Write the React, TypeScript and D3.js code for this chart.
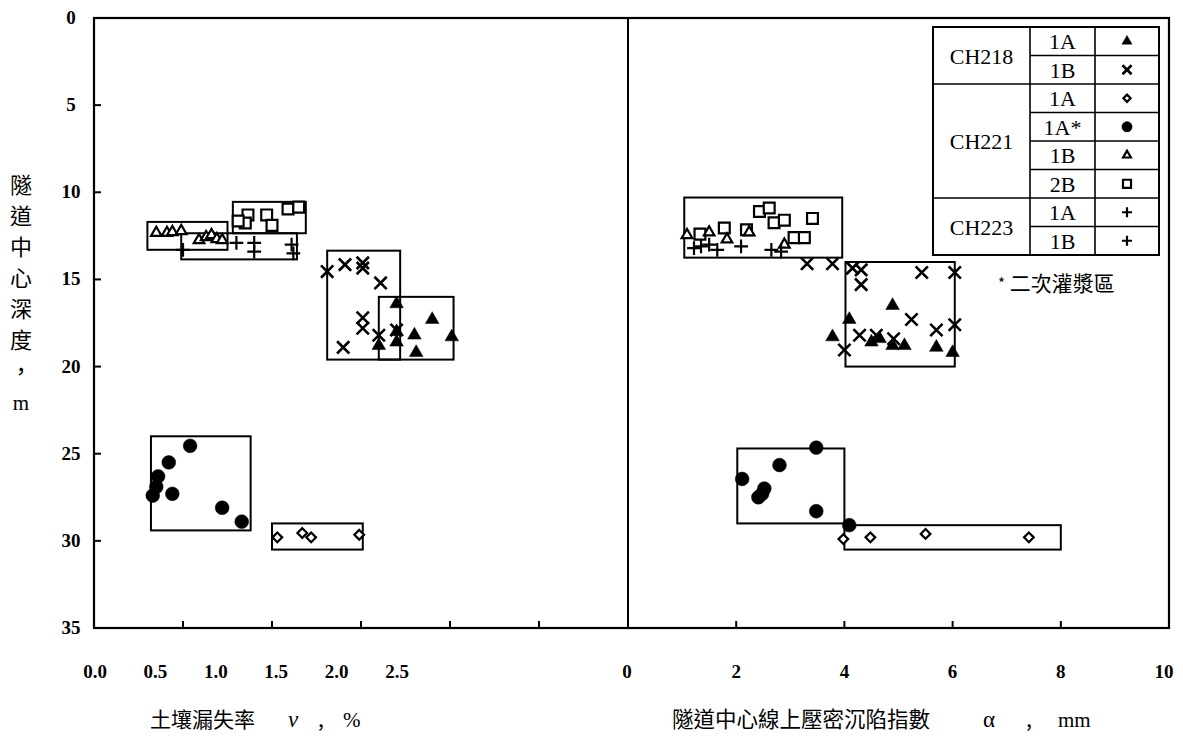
import React, { useEffect, useRef } from 'react';
import * as d3 from 'd3';

// axes
const depthTicks = [0, 5, 10, 15, 20, 25, 30, 35];
const lossTicks = [0, 0.5, 1, 1.5, 2, 2.5];
const lossLabels = ['0.0', '0.5', '1.0', '1.5', '2.0', '2.5'];
const settleTicks = [0, 2, 4, 6, 8, 10];

// left panel: [soil loss v (%), depth (m)]
const lossTriFilled = [[1.70, 16.4], [1.90, 17.3], [1.80, 18.2], [1.60, 18.8], [1.70, 18.6], [1.70, 18.0], [1.81, 19.2], [2.01, 18.3]];
const lossCross = [[1.31, 14.55], [1.41, 14.15], [1.51, 14.05], [1.51, 14.35], [1.61, 15.2], [1.51, 17.2], [1.51, 17.8], [1.40, 18.9], [1.60, 18.2], [1.70, 17.9]];
const lossDiamond = [[1.03, 29.8], [1.17, 29.55], [1.22, 29.8], [1.49, 29.65]];
const lossDot = [[0.54, 24.55], [0.42, 25.5], [0.36, 26.3], [0.35, 26.9], [0.33, 27.4], [0.44, 27.3], [0.72, 28.1], [0.83, 28.9]];
const lossTriOpen = [[0.35, 12.33], [0.41, 12.33], [0.44, 12.28], [0.49, 12.22], [0.59, 12.74], [0.63, 12.57], [0.66, 12.45], [0.69, 12.68], [0.72, 12.74]];
const lossSquare = [[0.865, 11.3], [0.97, 11.3], [1.09, 10.96], [0.85, 11.76], [1.0, 11.9], [0.81, 11.65], [1.15, 10.85]];
const lossPlus = [[0.50, 13.3], [0.80, 12.9], [0.90, 12.9], [0.90, 13.4], [1.12, 13.5], [1.11, 13.0]];
// [x0, x1, depth0, depth1]
const lossBoxes = [[0.30, 0.75, 11.7, 13.3], [0.78, 1.19, 10.55, 12.35], [0.49, 1.14, 12.35, 13.85], [1.31, 1.72, 13.35, 19.6], [1.60, 2.02, 16.0, 19.6], [0.32, 0.88, 24.0, 29.4], [1.0, 1.51, 29.0, 30.5]];

// right panel: [settlement index alpha (mm), depth (m)]
const settleTriFilled = [[4.89, 16.5], [4.09, 17.3], [3.78, 18.3], [4.5, 18.6], [4.65, 18.4], [4.89, 18.8], [5.11, 18.8], [5.7, 18.9], [6.0, 19.2]];
const settleCross = [[3.31, 14.1], [3.78, 14.1], [4.15, 14.35], [4.31, 14.45], [4.31, 15.3], [5.43, 14.6], [6.04, 14.6], [5.24, 17.3], [6.04, 17.6], [5.70, 17.9], [4.28, 18.2], [4.59, 18.2], [4.91, 18.4], [4.0, 19.05]];
const settleDiamond = [[3.98, 29.9], [4.48, 29.8], [5.5, 29.6], [7.41, 29.8]];
const settleDot = [[3.48, 24.65], [2.8, 25.65], [2.11, 26.45], [2.52, 27.0], [2.41, 27.5], [2.48, 27.3], [3.48, 28.3], [4.09, 29.1]];
const settleTriOpen = [[1.09, 12.45], [1.5, 12.3], [1.83, 12.7], [2.24, 12.3], [2.89, 13.0]];
const settleSquare = [[2.43, 11.1], [2.61, 10.9], [2.70, 11.75], [2.89, 11.6], [3.41, 11.5], [3.07, 12.6], [3.26, 12.6], [1.78, 12.05], [2.19, 12.15], [1.33, 12.4]];
const settlePlus = [[1.22, 13.2], [1.35, 13.1], [1.65, 13.3], [2.09, 13.1], [2.65, 13.3], [2.83, 13.4], [1.5, 13.0]];
const settleBoxes = [[1.04, 3.96, 10.3, 13.75], [4.02, 6.04, 14.0, 20.0], [2.02, 4.0, 24.7, 29.0], [4.0, 8.0, 29.1, 30.5]];

// legend
const legendGroups = ['CH218', 'CH221', 'CH223'];
const legendSpans = [2, 4, 2];
const legendCases = ['1A', '1B', '1A', '1A*', '1B', '2B', '1A', '1B'];
const legendKinds = ['triFilled', 'cross', 'diamond', 'dot', 'triOpen', 'square', 'plus', 'plus'];

const serif = '"Liberation Serif", "Times New Roman", serif';
const cjk = '"Noto Sans CJK TC", "Noto Sans CJK SC", sans-serif';

function symbolPath(kind: string, scale: number) {
    const s = d3.symbol();
    if (kind === 'triFilled') return s.type(d3.symbolTriangle).size(80 * scale)();
    if (kind === 'cross') return s.type(d3.symbolTimes).size(100 * scale)();
    if (kind === 'diamond') return s.type(d3.symbolDiamond2).size(60 * scale)();
    if (kind === 'dot') return s.type(d3.symbolCircle).size(150 * scale)();
    if (kind === 'triOpen') return s.type(d3.symbolTriangle2).size(80 * scale)();
    if (kind === 'square') return s.type(d3.symbolSquare2).size(150 * scale)();
    return s.type(d3.symbolPlus).size(64 * scale)();
}

function drawMark(g: any, kind: string, x: number, y: number, scale: number) {
    const filled = kind === 'triFilled' || kind === 'dot';
    g.append('path')
        .attr('d', symbolPath(kind, scale))
        .attr('transform', `translate(${x},${y})`)
        .attr('fill', filled ? '#000' : (kind === 'cross' || kind === 'plus' ? 'none' : '#fff'))
        .attr('stroke', '#000')
        .attr('stroke-width', filled ? 0.5 : (kind === 'cross' ? 2.6 : 2.2));
}

export default function App() {
    const ref = useRef<SVGSVGElement>(null);

    useEffect(() => {
        const svg = d3.select(ref.current);
        svg.selectAll('*').remove();

        const y = d3.scaleLinear().domain([0, 35]).range([18, 628]);
        const xL = d3.scaleLinear().domain([0, 3]).range([94, 628]);
        const xR = d3.scaleLinear().domain([0, 10]).range([628, 1169]);
        // the printed labels of the left axis sit closer together than its ticks
        const lossLabelPos = d3.scalePoint().domain(lossLabels).range([95, 397]);

        // frame
        svg.append('rect')
            .attr('x', xL(0)).attr('y', y(0))
            .attr('width', xR(10) - xL(0)).attr('height', y(35) - y(0))
            .attr('fill', 'none').attr('stroke', '#000').attr('stroke-width', 2.2);
        svg.append('line')
            .attr('x1', xR(0)).attr('x2', xR(0)).attr('y1', y(0)).attr('y2', y(35))
            .attr('stroke', '#000').attr('stroke-width', 2);

        // ticks
        const tg = svg.append('g').attr('stroke', '#000').attr('stroke-width', 2);
        depthTicks.slice(1, -1).forEach((d) => {
            tg.append('line').attr('x1', xL(0)).attr('x2', xL(0) + 7).attr('y1', y(d)).attr('y2', y(d));
        });
        lossTicks.slice(1).forEach((d) => {
            tg.append('line').attr('x1', xL(d)).attr('x2', xL(d)).attr('y1', y(35)).attr('y2', y(35) - 7);
        });
        settleTicks.slice(1, -1).forEach((d) => {
            tg.append('line').attr('x1', xR(d)).attr('x2', xR(d)).attr('y1', y(35)).attr('y2', y(35) - 7);
        });

        // tick labels
        const lab = svg.append('g').attr('font-family', serif).attr('font-size', 19).attr('font-weight', 'bold').attr('text-anchor', 'middle');
        depthTicks.forEach((d) => {
            lab.append('text').attr('x', 71).attr('y', y(d) + 6).text(d);
        });
        lossLabels.forEach((d) => {
            lab.append('text').attr('x', lossLabelPos(d)).attr('y', 678).text(d);
        });
        settleTicks.forEach((d) => {
            lab.append('text').attr('x', xR(d) + (d === 0 ? -1 : d === 10 ? -5 : 0)).attr('y', 678).text(d);
        });

        // axis titles
        const yTitle = '隧道中心深度，m';
        Array.from(yTitle).forEach((ch, i) => {
            svg.append('text')
                .attr('x', 21).attr('y', 193 + i * 31)
                .attr('text-anchor', 'middle')
                .attr('font-family', ch === 'm' ? serif : cjk)
                .attr('font-size', ch === 'm' ? 21 : 22)
                .text(ch);
        });
        const t1 = svg.append('text').attr('y', 727).attr('font-family', cjk).attr('font-size', 21);
        t1.append('tspan').attr('x', 150).text('土壤漏失率');
        t1.append('tspan').attr('x', 288).attr('font-family', serif).attr('font-style', 'italic').attr('font-size', 23).text('v');
        t1.append('tspan').attr('x', 318).text(',');
        t1.append('tspan').attr('x', 343).attr('font-family', serif).attr('font-size', 21).text('%');
        const t2 = svg.append('text').attr('y', 727).attr('font-family', cjk).attr('font-size', 21.5);
        t2.append('tspan').attr('x', 672).text('隧道中心線上壓密沉陷指數');
        t2.append('tspan').attr('x', 983).attr('font-family', serif).attr('font-size', 23).text('α');
        t2.append('tspan').attr('x', 1026).text(',');
        t2.append('tspan').attr('x', 1058).attr('font-family', serif).attr('font-size', 21).text('mm');

        // range boxes
        const boxes = svg.append('g').attr('fill', 'none').attr('stroke', '#000').attr('stroke-width', 2);
        lossBoxes.forEach((b) => {
            boxes.append('rect').attr('x', xL(b[0])).attr('y', y(b[2]))
                .attr('width', xL(b[1]) - xL(b[0])).attr('height', y(b[3]) - y(b[2]));
        });
        settleBoxes.forEach((b) => {
            boxes.append('rect').attr('x', xR(b[0])).attr('y', y(b[2]))
                .attr('width', xR(b[1]) - xR(b[0])).attr('height', y(b[3]) - y(b[2]));
        });

        // points
        const marks = svg.append('g');
        const leftSets: [string, number[][]][] = [
            ['dot', lossDot], ['diamond', lossDiamond], ['square', lossSquare], ['triOpen', lossTriOpen],
            ['plus', lossPlus], ['cross', lossCross], ['triFilled', lossTriFilled],
        ];
        const rightSets: [string, number[][]][] = [
            ['dot', settleDot], ['diamond', settleDiamond], ['square', settleSquare], ['triOpen', settleTriOpen],
            ['plus', settlePlus], ['cross', settleCross], ['triFilled', settleTriFilled],
        ];
        leftSets.forEach(([k, pts]) => pts.forEach((p) => drawMark(marks, k, xL(p[0]), y(p[1]), 1)));
        rightSets.forEach(([k, pts]) => pts.forEach((p) => drawMark(marks, k, xR(p[0]), y(p[1]), 1)));

        // legend table
        const lx = [933, 1030, 1095, 1159];
        const rowY = d3.scaleLinear().domain([0, legendCases.length]).range([27, 255]);
        const lg = svg.append('g');
        lg.append('rect').attr('x', lx[0]).attr('y', rowY(0)).attr('width', lx[3] - lx[0]).attr('height', rowY(8) - rowY(0))
            .attr('fill', '#fff').attr('stroke', '#000').attr('stroke-width', 2);
        [1, 2].forEach((c) => {
            lg.append('line').attr('x1', lx[c]).attr('x2', lx[c]).attr('y1', rowY(0)).attr('y2', rowY(8))
                .attr('stroke', '#000').attr('stroke-width', 1.6);
        });
        let start = 0;
        legendGroups.forEach((name, gi) => {
            const end = start + legendSpans[gi];
            if (gi > 0) {
                lg.append('line').attr('x1', lx[0]).attr('x2', lx[1]).attr('y1', rowY(start)).attr('y2', rowY(start))
                    .attr('stroke', '#000').attr('stroke-width', 1.6);
            }
            lg.append('text').attr('x', (lx[0] + lx[1]) / 2).attr('y', (rowY(start) + rowY(end)) / 2 + 8)
                .attr('text-anchor', 'middle').attr('font-family', serif).attr('font-size', 22).text(name);
            start = end;
        });
        legendCases.forEach((c, i) => {
            if (i > 0) {
                lg.append('line').attr('x1', lx[1]).attr('x2', lx[3]).attr('y1', rowY(i)).attr('y2', rowY(i))
                    .attr('stroke', '#000').attr('stroke-width', 1.6);
            }
            const cy = (rowY(i) + rowY(i + 1)) / 2;
            lg.append('text').attr('x', (lx[1] + lx[2]) / 2).attr('y', cy + 8)
                .attr('text-anchor', 'middle').attr('font-family', serif).attr('font-size', 22).text(c);
            drawMark(lg, legendKinds[i], (lx[2] + lx[3]) / 2, cy, 0.55);
        });

        const note = svg.append('text').attr('x', 998).attr('y', 291).attr('font-family', cjk).attr('font-size', 21);
        note.append('tspan').attr('font-size', 15).attr('dy', -2).text('*');
        note.append('tspan').attr('dy', 2).text(' 二次灌漿區');
    }, []);

    return (
        <svg ref={ref} width={1183} height={737}
            style={{ position: 'absolute', left: 0, top: 0, background: '#fff' }} />
    );
}
